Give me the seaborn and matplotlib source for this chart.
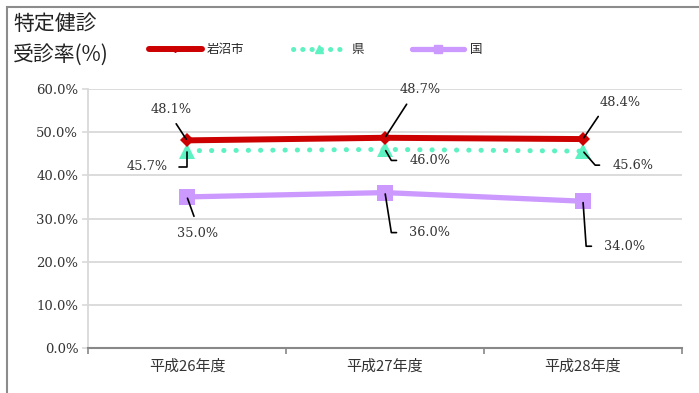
import matplotlib
matplotlib.use("Agg")
import matplotlib.pyplot as plt
from matplotlib.lines import Line2D
from matplotlib.patches import Rectangle
import seaborn as sns
import pandas as pd

# ---- data ----
years = ["平成26年度", "平成27年度", "平成28年度"]
iwanuma = [48.1, 48.7, 48.4]
prefecture = [45.7, 46.0, 45.6]
national = [35.0, 36.0, 34.0]
series_names = ["岩沼市", "県", "国"]
y_ticks = [0, 10, 20, 30, 40, 50, 60]

sns.set_theme(style="white")
plt.rcParams["font.family"] = ["Noto Sans CJK JP", "DejaVu Sans"]

W, H = 699, 393
fig = plt.figure(figsize=(W / 100, H / 100), dpi=100)
ax = fig.add_axes([88 / W, 1 - 348 / H, (682 - 88) / W, (348 - 89) / H])

NUM_FONT = ["DejaVu Serif", "Noto Sans CJK JP"]

red = "#CC0000"
green = "#5EF2C2"
purple = "#CC99FF"

df = pd.DataFrame({"year": years, "iwanuma": iwanuma,
                   "pref": prefecture, "nat": national})

sns.lineplot(data=df, x="year", y="nat", ax=ax, color=purple, lw=3.8,
             marker="s", markersize=11, markeredgewidth=0, zorder=3, sort=False)
sns.lineplot(data=df, x="year", y="pref", ax=ax, color=green, lw=3.6,
             marker="^", markersize=12, markeredgewidth=0, zorder=4, sort=False)
green_line = ax.lines[-1]
green_line.set_linestyle((0, (0.05, 2.4)))
green_line.set_dash_capstyle("round")
sns.lineplot(data=df, x="year", y="iwanuma", ax=ax, color=red, lw=4.3,
             marker="D", markersize=7.5, markeredgewidth=0, zorder=5, sort=False)

ax.set_xlim(-0.5, 2.5)
ax.set_ylim(0, 60)
ax.set_xlabel("")
ax.set_ylabel("")

ax.set_yticks(y_ticks)
ax.set_yticklabels([f"{v:.1f}%" for v in y_ticks], family=NUM_FONT,
                   fontsize=9.5, color="#333333")
ax.yaxis.grid(True, color="#D9D9D9", lw=1.3)
ax.set_axisbelow(True)

ax.set_xticks([0, 1, 2])
ax.set_xticklabels(years, fontsize=10.8, color="#333333")
ax.set_xticks([-0.5, 0.5, 1.5, 2.5], minor=True)
ax.tick_params(axis="x", which="major", length=0, pad=8)
ax.tick_params(axis="x", which="minor", length=4, width=1.2,
               color="#888888", direction="out", bottom=True)
ax.tick_params(axis="y", length=4, width=1.2, color="#D9D9D9",
               direction="out", left=True, pad=3)

for s in ["top", "right"]:
    ax.spines[s].set_visible(False)
ax.spines["left"].set_color("#D9D9D9")
ax.spines["left"].set_linewidth(1.3)
ax.spines["bottom"].set_color("#888888")
ax.spines["bottom"].set_linewidth(1.5)

# ---- data labels with leader lines ----
def label(i, v, dx, dy, relpos, conn="arc3", shrink=2):
    ax.annotate(f"{v:.1f}%", xy=(i, v), xytext=(dx, dy),
                textcoords="offset pixels", ha="center", va="center",
                fontsize=9.3, family=NUM_FONT, color="#333333", zorder=6,
                arrowprops=dict(arrowstyle="-", color="black", lw=1.2,
                                shrinkA=shrink, shrinkB=1, relpos=relpos,
                                connectionstyle=conn))

label(0, iwanuma[0], -16, 31, (0.5, 0), shrink=4)
label(1, iwanuma[1], 35, 48, (0.3, 0), shrink=4)
label(2, iwanuma[2], 37, 37, (0.1, 0), shrink=4)

label(0, prefecture[0], -40, -16, (1, 0.5),
      "angle,angleA=0,angleB=90,rad=0", shrink=6)
label(1, prefecture[1], 45, -11, (0, 0.5),
      "angle,angleA=0,angleB=120,rad=0", shrink=7)
label(2, prefecture[2], 50, -14, (0, 0.5),
      "angle,angleA=0,angleB=131,rad=0", shrink=7)

label(0, national[0], 11, -37, (0.5, 1), shrink=6)
label(1, national[1], 45, -40, (0, 0.5),
      "angle,angleA=0,angleB=99,rad=0", shrink=7)
label(2, national[2], 42, -45, (0, 0.5),
      "angle,angleA=0,angleB=94,rad=0", shrink=7)

# ---- title ----
fig.text(13 / W, 1 - 24 / H, "特定健診", ha="left", va="center",
         fontsize=15, color="#222222")
fig.text(13 / W, 1 - 55 / H, "受診率(%)", ha="left", va="center",
         fontsize=15, color="#222222")

# ---- legend ----
handles = [
    Line2D([], [], color=red, lw=4.3, marker="D", markersize=3,
           solid_capstyle="round"),
    Line2D([], [], color=green, lw=3.6, linestyle=(0, (0.05, 1.8)),
           dash_capstyle="round", marker="^", markersize=6),
    Line2D([], [], color=purple, lw=3.8, marker="s", markersize=6,
           solid_capstyle="round"),
]
fig.legend(handles, series_names, loc="center left",
           bbox_to_anchor=(149 / W, 1 - 50 / H), ncol=3, frameon=False,
           fontsize=9, handlelength=4.2, handletextpad=0.45,
           columnspacing=3.85, borderaxespad=0, borderpad=0)

# ---- outer frame ----
fig.patches.append(Rectangle((7 / W, -0.1), 1.2, 1 - 7 / H + 0.1,
                             transform=fig.transFigure, fill=False,
                             edgecolor="#8C8C8C", lw=1.5, zorder=0))

fig.savefig("out.png", dpi=100)
